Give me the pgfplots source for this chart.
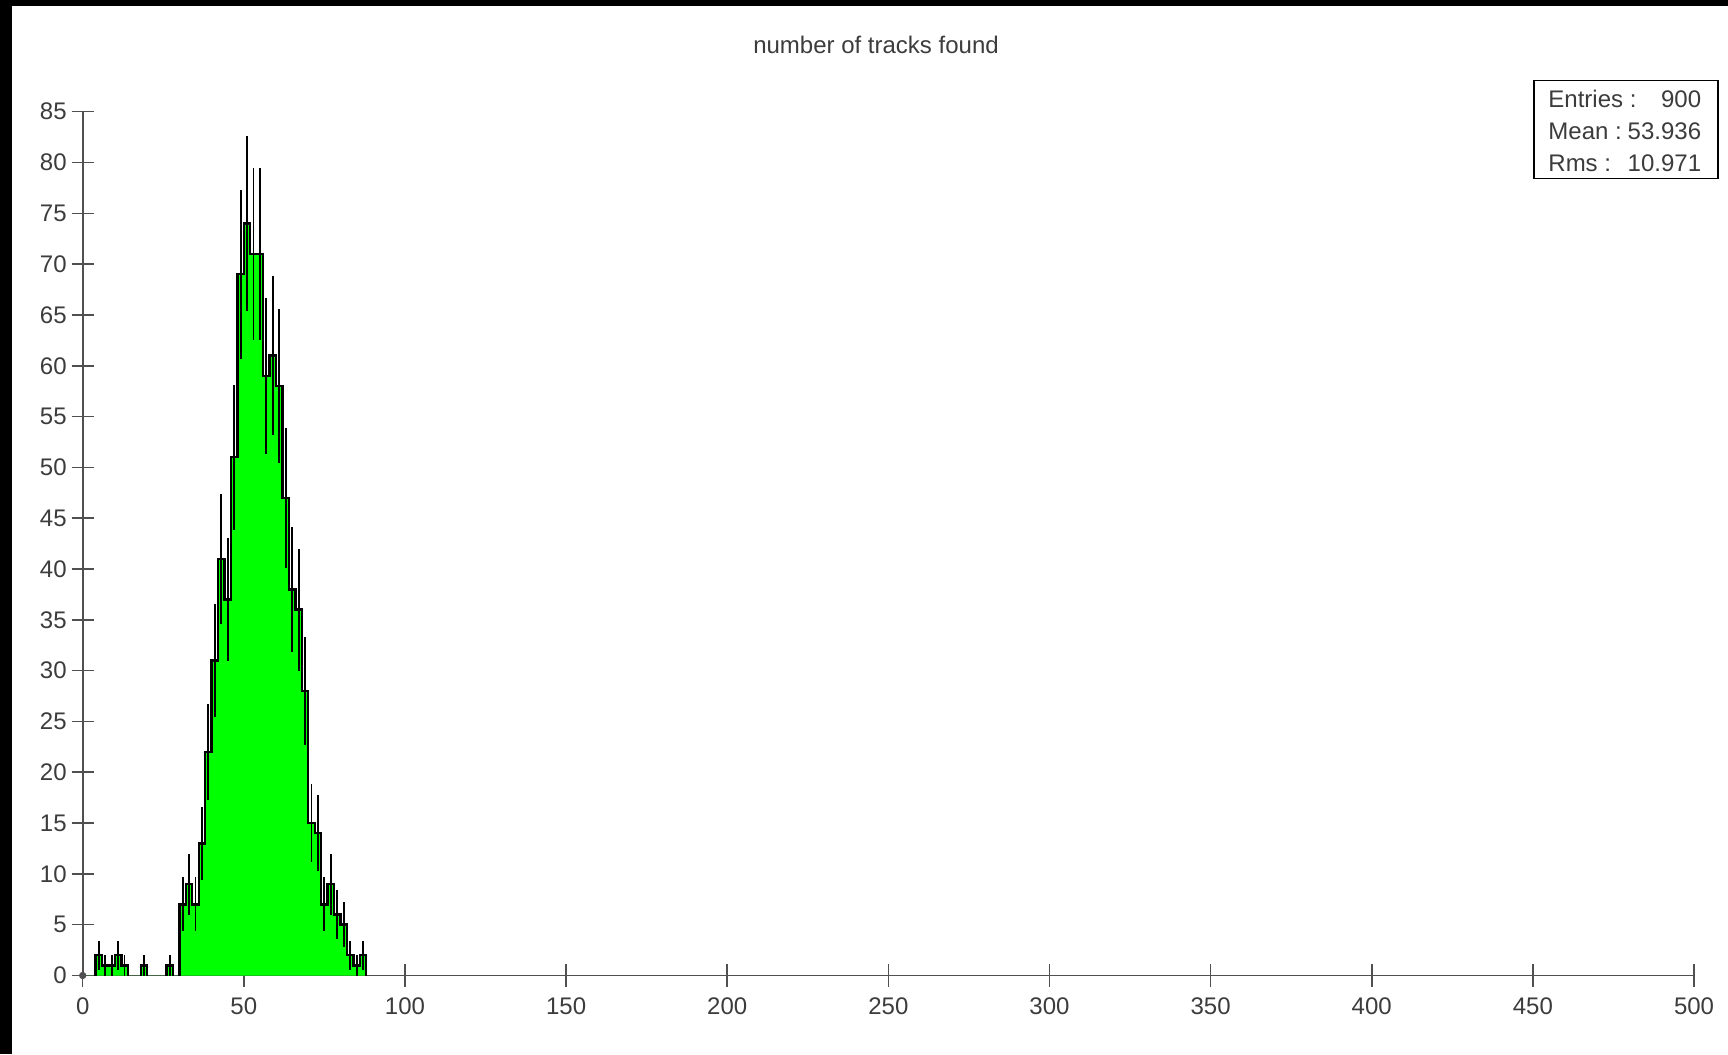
\documentclass[border=0pt]{standalone}
\usepackage{fontspec}
\setmainfont{Liberation Sans}
\usepackage{pgfplots}
\usepackage{pgfplotstable}
\pgfplotsset{compat=1.18}
\definecolor{histgreen}{RGB}{0,255,0}
\definecolor{axgray}{RGB}{80,80,80}
\definecolor{txtgray}{RGB}{60,60,60}

% bin left edge, entries (bin width 2)
\pgfplotstableread{
x n
0 0
2 0
4 2
6 1
8 1
10 2
12 1
14 0
16 0
18 1
20 0
22 0
24 0
26 1
28 0
30 7
32 9
34 7
36 13
38 22
40 31
42 41
44 37
46 51
48 69
50 74
52 71
54 71
56 59
58 61
60 58
62 47
64 38
66 36
68 28
70 15
72 14
74 7
76 9
78 6
80 5
82 2
84 1
86 2
88 0
}\histtab

% bin centre, entries, error
\pgfplotstableread{
c n e
5 2 1.414
7 1 1
9 1 1
11 2 1.414
13 1 1
19 1 1
27 1 1
31 7 2.646
33 9 3
35 7 2.646
37 13 3.606
39 22 4.690
41 31 5.568
43 41 6.403
45 37 6.083
47 51 7.141
49 69 8.307
51 74 8.602
53 71 8.426
55 71 8.426
57 59 7.681
59 61 7.810
61 58 7.616
63 47 6.856
65 38 6.164
67 36 6
69 28 5.292
71 15 3.873
73 14 3.742
75 7 2.646
77 9 3
79 6 2.449
81 5 2.236
83 2 1.414
85 1 1
87 2 1.414
}\errtab

\begin{document}
\begin{tikzpicture}
\fill[white] (-41.35pt,-39.25pt) rectangle (822.65pt,487.75pt);
\fill[black] (-41.35pt,-39.25pt) rectangle (-35.35pt,487.75pt);
\fill[black] (-41.35pt,484.75pt) rectangle (822.65pt,487.75pt);
\useasboundingbox (-41.35pt,-39.25pt) rectangle (822.65pt,487.75pt);
\begin{axis}[
  at={(0pt,0pt)}, anchor=south west,
  scale only axis, width=805.65pt, height=431.9pt,
  xmin=0, xmax=500, ymin=0, ymax=85,
  enlargelimits=false,
  axis lines=left,
  axis line style={-, draw=axgray, line width=0.9pt},
  xtick={0,50,...,500}, ytick={0,5,...,85},
  minor tick num=0,
  tick align=center, major tick length=11pt,
  tick style={draw=axgray, line width=0.8pt},
  ticklabel style={font=\fontsize{12}{14}\selectfont, text=txtgray},
  xticklabel style={yshift=-2pt},
  yticklabel style={xshift=1pt},
  /pgf/number format/assume math mode=true,
  /pgf/number format/fixed,
  scaled ticks=false,
  clip=false,
]
% fill
\addplot[fill=histgreen, draw=none, mark=none, const plot mark left] table[x=x, y=n] {\histtab} \closedcycle;
% error bars (vertical lines at bin centres, no marks)
\addplot[draw=none, mark=none,
  error bars/.cd, y dir=both, y explicit, error mark=none,
  error bar style={draw=black, line width=0.9pt}]
  table[x=c, y=n, y error=e] {\errtab};
% outline
\addplot[black, mark=none, line width=1.2pt, const plot mark left] coordinates {(4,0)(4,2)(6,1)(8,1)(10,2)(12,1)(14,0)};
\addplot[black, mark=none, line width=1.2pt, const plot mark left] coordinates {(18,0)(18,1)(20,0)};
\addplot[black, mark=none, line width=1.2pt, const plot mark left] coordinates {(26,0)(26,1)(28,0)};
\addplot[black, mark=none, line width=1.2pt, const plot mark left] coordinates {
(30,0)(30,7)(32,9)(34,7)(36,13)(38,22)(40,31)(42,41)(44,37)(46,51)(48,69)(50,74)(52,71)(54,71)(56,59)(58,61)(60,58)(62,47)(64,38)(66,36)(68,28)(70,15)(72,14)(74,7)(76,9)(78,6)(80,5)(82,2)(84,1)(86,2)(88,0)};
% origin dot
\addplot[only marks, mark=*, mark size=1.6pt, color=axgray] coordinates {(0,0)};
\end{axis}
\node[font=\fontsize{12}{14}\selectfont, text=txtgray] at (396.65pt,465.25pt) {number of tracks found};
\draw[black, line width=0.8pt] (725.65pt,447.5pt) rectangle (817.65pt,398.5pt);
\begin{scope}[every node/.style={font=\fontsize{12}{14}\selectfont, text=txtgray, inner sep=0pt}]
\node[anchor=west] at (732.65pt,438.25pt) {Entries :};
\node[anchor=east] at (809.4pt,438.25pt) {900};
\node[anchor=west] at (732.65pt,422.25pt) {Mean :};
\node[anchor=east] at (809.4pt,422.25pt) {53.936};
\node[anchor=west] at (732.65pt,406.25pt) {Rms :};
\node[anchor=east] at (809.4pt,406.25pt) {10.971};
\end{scope}
\end{tikzpicture}
\end{document}
